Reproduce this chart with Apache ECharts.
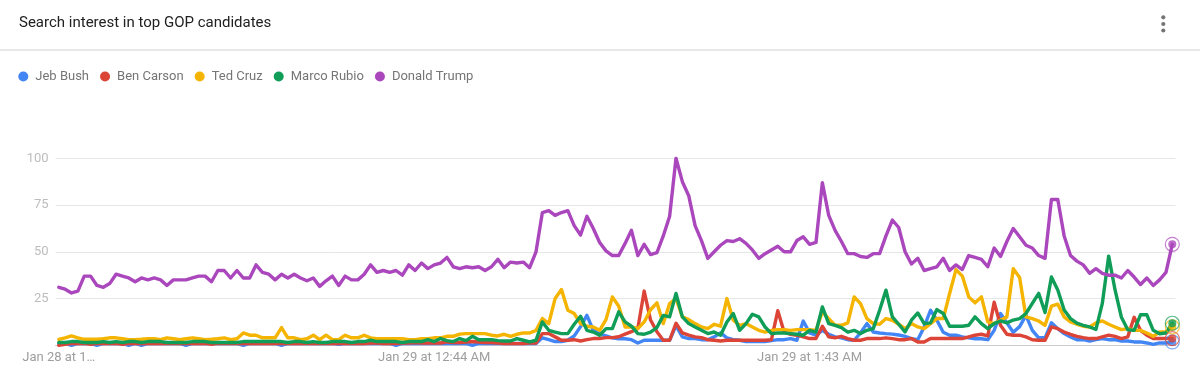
<!DOCTYPE html>
<html>
<head>
<meta charset="utf-8">
<script src="https://cdn.jsdelivr.net/npm/echarts@6/dist/echarts.min.js"></script>
<style>
  html, body { margin: 0; padding: 0; background: #fff; }
  #chart { width: 1200px; height: 384px; }
</style>
</head>
<body>
<div id="chart"></div>
<script>
// ---- Data ----
const title = 'Search interest in top GOP candidates';
const seriesNames = ['Jeb Bush', 'Ben Carson', 'Ted Cruz', 'Marco Rubio', 'Donald Trump'];
const seriesColors = ['#4285f4', '#db4437', '#f4b400', '#0f9d58', '#ab47bc'];
const yTicks = [0, 25, 50, 75, 100];

// one point per minute, starting Jan 28 at 11:45 PM
const startLabel = { day: 28, hour: 23, minute: 45 };
const pointCount = 176;

const bush = [
  1,1,0,1,1,1,0,1,1,1,1,0,1,0,1,1,1,1,1,1,0,1,1,1,1,1,1,1,1,0,1,1,1,1,1,0,
  1,1,1,1,1,1,1,1,0.5,1,1,1,1,1,1,1,1,0,1,1,1,1,1,1,1,1,1,1,1,0,1,1,1,1,
  1,1,1,1,1,1,4,3,2,2,2.7,5,10,16,8,6,5,4,3.5,3.5,3,1.2,2.7,2.7,2.7,2.7,2.7,10.5,4.5,3.6,3.6,3,3,4.5,6.6,
  4,3,2.7,2,2,2,2,2.5,3,3,3.6,2.7,13,6.6,5.4,8,5.9,4.5,4,3,2.7,6.6,11.6,7.1,6.6,6.25,6,5.5,4.8,3.6,3,9.8,18.75,13.4,
  7,5.4,5.4,4.5,4,3.5,3.5,3,8,17,12,7,10,16,8,4,4,12,8.9,6.25,4.5,3,3,2.3,3,3.6,3,3,2.3,2.3,1.8,1.8,1.25,0.5,1.25,1.25,1.8
];
const carson = [
  0,0.5,1,1,1,0.5,1,1,1,1,0.5,1,1,1,1,1,1,1,1,1,1,1,1,1,0.5,1,1,1,1,1,1,1,1,1,1,1,
  1,1,1,1,1,1,1,1,1,1,1,1,1,1.2,1.2,1,1,1,1.2,1.2,1.5,1.2,1.2,1.2,1.25,1.8,1.5,1.5,1.8,2,1.8,1.5,1.5,1.25,
  0.9,0.9,0.9,0.9,1.2,1.2,6.25,6.25,4.5,2.7,2.7,3,2.3,3,3.6,3.6,4.1,4.1,4.6,6,7.3,9,29,13.5,7.3,2.7,2.7,11.8,6.6,5.4,4.5,4.1,3,2.7,2.3,
  2.7,2.7,2.7,2.7,2.7,2.7,2.7,3,18.5,7,5.9,5.4,4.5,3.6,3.6,10.2,4.5,4,4.8,3.6,2.7,2.7,3.6,3.6,3.6,4,3.6,3,3,3.6,1.8,1.8,3.6,3.6,
  3.6,3.6,3.6,3.6,4.5,5.4,5.9,5,23,10.7,5.9,5.4,5.4,4.5,3,2.7,2.7,9.8,8.9,7.1,5.9,4.8,4.1,3.6,3.6,4.5,5.4,4.8,3.6,4.5,15,8,5.4,3.6,3.6,3.6,3.6
];
const cruz = [
  3.2,4,5,4,3.2,3.2,3.2,3.5,4,4,3.5,3,3,3.2,3.5,3.5,3,4,3.5,3,3.5,4,3.5,3,3.2,3.5,4,3,3.5,6.6,5.4,5.4,4,4,4,9.5,
  4,4,3,3.5,5.4,3,5.4,3,3,5.4,4,4,5.4,4,3.5,3.5,3.5,3.5,3.5,3,3,3.5,3.5,4,4,4.8,4.8,6,6.25,6.25,6.25,6.25,5.4,5,
  5.9,4.8,5.9,6.6,6.6,8,14.3,11.6,25,29.8,18.75,17,11.6,10.2,9.8,8,13.75,25.9,20.9,9.8,9.8,8.9,12.5,19,22.7,11.6,22.3,25,15.2,13.75,11.6,9.8,8.9,11.25,10.2,
  25,13.4,10.7,11.6,9.8,8,7.1,8,8.4,8.4,8,8.4,8.4,8.4,8,17.9,14.3,10.7,10.7,12,25.9,22.3,14.3,11.6,11.25,14.3,13.4,11.25,8.9,11.6,9.8,8.9,11.6,14.3,
  14.3,27.7,40.5,37,25.9,22.7,25.9,12.5,11.6,13.4,15.2,41,36.25,15.2,14.3,13,10.7,20.9,22,15.2,12.5,11.25,10.2,9.8,12,13,11.25,9.8,8.4,8.9,8,8,6.6,4.8,7.1,7.1,9.8
];
const rubio = [
  1.5,1.5,2,2,1.5,1.5,1.5,2,1.5,2,1.5,2,2,1.5,2,2,2,1.5,1.5,1.5,1.5,2,2,2,1.5,1.5,1.5,1.5,1.5,2,2,2,2,2,2,2,
  1.5,2,2,1.5,2,1.5,1.5,2,2,2,1.5,2,2,2.7,2,2,2,2,1.5,2,2,2,3,2,3.6,2.5,2,3.6,2.5,4.8,3,3,3,2.5,
  2.3,2.3,3.6,2.7,1.8,2.7,12.5,8,7.1,6.25,6.25,11.25,15.5,8,7.1,5.4,8.9,8.9,17.9,12.5,10.2,6.25,5.9,7.1,9.5,16,15.2,27.7,15.2,11.6,9.8,8,6.25,7.1,5.4,
  12.5,17,8,11.6,16.6,15.2,9.8,6.25,6.6,6.6,6.25,5.9,5.4,8,7.1,20.5,11.6,10.7,9.5,7.1,8,6.25,8,8.9,18.75,29.5,15.2,11.25,7.1,13.4,17.3,11.6,12,19.1,
  17,10.2,10.2,10.2,10.7,15.2,11.6,8.9,11.6,13,12,13.5,14.3,17,22.4,27.8,17.5,36.5,29.6,18.9,14.3,11.8,10.7,9.8,8.5,22.4,47.7,29.6,15,8.3,8,16.3,16.3,8,6.2,6.6,11.8
];
const trump = [
  31,30,28,29,37,37,32,31,33,38,37,36,34,36,35,36,35,32,35,35,35,36,37,37,34,40,40,36,40,36,36,43,39,38,35,38,
  36,38,36,34.5,36,31.5,34.5,37,32,37,35,35,38,43,39,40,39,40,37.5,43,40,44,41,43,44,47,42,41,42,41.5,42,40,42,46,
  41.5,44.5,44,44.5,41.5,50,71,72,69.5,71,72,64,59,69,62.5,55,50.5,48,48,54.5,61.5,48,54,48.5,49.5,58.5,69,100,87.5,80,64,56,46.5,50,53.5,
  56,55.5,57,54.5,51,46.5,49,51,53,50,50,56,58,54,55,87,69.5,61.5,55.5,49,49,47.5,47,49,49,58.5,67,63,50,43.5,46.5,40,41,42,
  46.5,40,43,40.5,48,47,46,42,52,47.5,55.5,62.5,58,53.5,52,48,46.5,78,78,58.5,48,45,43,38.5,41,38.5,37.5,37.5,36,40,36.5,32.5,36,32,35,39,54
];
const seriesValues = [bush, carson, cruz, rubio, trump];

// ---- Category labels (time of day) ----
const monthName = 'Jan';
function timeLabel(i) {
  let total = startLabel.hour * 60 + startLabel.minute + i;
  const day = startLabel.day + Math.floor(total / 1440);
  total = total % 1440;
  const h24 = Math.floor(total / 60), m = total % 60;
  const ampm = h24 < 12 ? 'AM' : 'PM';
  let h = h24 % 12; if (h === 0) h = 12;
  return monthName + ' ' + day + ' at ' + h + ':' + String(m).padStart(2, '0') + ' ' + ampm;
}
const categories = [];
for (let i = 0; i < pointCount; i++) categories.push(timeLabel(i));

// ---- Chart ----
const chart = echarts.init(document.getElementById('chart'), null, { renderer: 'canvas' });
const FONT = 'Roboto, "Noto Sans", Arial, sans-serif';

const lineSeries = seriesNames.map((name, k) => ({
  name,
  type: 'line',
  data: seriesValues[k],
  showSymbol: false,
  symbol: 'none',
  lineStyle: { width: 3.4, color: seriesColors[k], join: 'round', cap: 'round' },
  itemStyle: { color: seriesColors[k] },
  z: 2 + k,
  silent: true
}));
const last = pointCount - 1;
const dotSeries = seriesNames.map((name, k) => ({
  name,
  type: 'scatter',
  data: [[last, seriesValues[k][last]]],
  symbol: 'circle',
  symbolSize: 8,
  itemStyle: { color: seriesColors[k] },
  z: 10 + k,
  silent: true
}));
const ringSeries = seriesNames.map((name, k) => ({
  name,
  type: 'scatter',
  data: [[last, seriesValues[k][last]]],
  symbol: 'circle',
  symbolSize: 14,
  itemStyle: { color: 'rgba(255,255,255,0)', borderColor: seriesColors[k], borderWidth: 1.2, opacity: 0.7 },
  z: 10 + k,
  silent: true
}));

chart.setOption({
  animation: false,
  backgroundColor: '#ffffff',
  textStyle: { fontFamily: FONT },
  graphic: [
    { type: 'text', x: 19, y: 23, style: { text: title, font: '15px ' + FONT, fill: '#212121', verticalAlign: 'middle', textVerticalAlign: 'middle' } },
    { type: 'rect', shape: { x: 0, y: 49.3, width: 1200, height: 1.5 }, style: { fill: '#e0e0e0' } },
    { type: 'circle', shape: { cx: 1163.3, cy: 17.3, r: 2.1 }, style: { fill: '#757575' } },
    { type: 'circle', shape: { cx: 1163.3, cy: 24, r: 2.1 }, style: { fill: '#757575' } },
    { type: 'circle', shape: { cx: 1163.3, cy: 30.5, r: 2.1 }, style: { fill: '#757575' } }
  ],
  legend: {
    data: seriesNames.map((n, k) => ({ name: n, icon: 'circle', itemStyle: { color: seriesColors[k] } })),
    left: 18.3,
    top: 70,
    padding: 0,
    itemWidth: 10,
    itemHeight: 10,
    itemGap: 11,
    selectedMode: false,
    textStyle: { fontSize: 13, color: '#757575', fontFamily: FONT, padding: [0, 0, 0, 2] }
  },
  grid: { left: 55.6, right: 24.5, top: 158.3, bottom: 38.7 },
  xAxis: {
    type: 'category',
    data: categories,
    boundaryGap: true,
    axisLine: { show: true, lineStyle: { color: '#cccccc', width: 1 } },
    axisTick: { show: false },
    axisLabel: {
      interval: 58,
      margin: 6,
      fontSize: 13,
      color: '#9e9e9e',
      fontFamily: FONT,
      formatter: (v, i) => i === 0 ? v.slice(0, 11) + '\u2026' : v
    },
    splitLine: { show: false }
  },
  yAxis: {
    type: 'value',
    min: yTicks[0],
    max: yTicks[yTicks.length - 1],
    interval: 25,
    axisLine: { show: false },
    axisTick: { show: false },
    axisLabel: {
      margin: 7,
      fontSize: 13,
      color: '#bdbdbd',
      fontFamily: FONT,
      formatter: v => v === 0 ? '' : String(v)
    },
    splitLine: { show: true, lineStyle: { color: '#e6e6e6', width: 1 } }
  },
  series: [...lineSeries, ...ringSeries, ...dotSeries]
});
</script>
</body>
</html>
